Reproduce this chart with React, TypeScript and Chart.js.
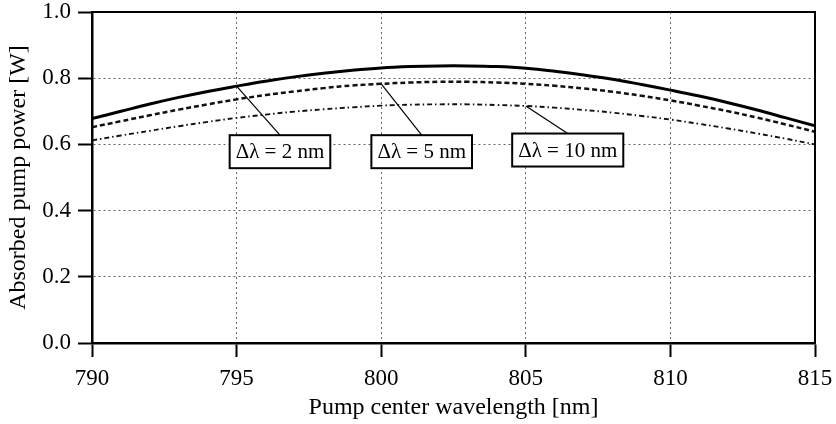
import { useEffect, useRef } from "react";
import { Chart, registerables } from "chart.js";

Chart.register(...registerables);

// Pump center wavelength [nm]
const wavelengths = [
  790, 791, 792, 793, 794, 795, 796, 797, 798, 799, 800, 801, 802,
  803, 804, 805, 806, 807, 808, 809, 810, 811, 812, 813, 814, 815,
];

// Absorbed pump power [W] for each pump linewidth
const absorbed2nm = [
  0.678, 0.700, 0.722, 0.742, 0.760, 0.776, 0.791, 0.804, 0.815, 0.824,
  0.831, 0.835, 0.837, 0.837, 0.835, 0.830, 0.821, 0.810, 0.797, 0.781,
  0.764, 0.746, 0.726, 0.704, 0.680, 0.656,
];
const absorbed5nm = [
  0.652, 0.670, 0.688, 0.705, 0.721, 0.736, 0.749, 0.760, 0.770, 0.778,
  0.783, 0.787, 0.789, 0.789, 0.787, 0.783, 0.777, 0.769, 0.759, 0.747,
  0.733, 0.717, 0.700, 0.681, 0.660, 0.638,
];
const absorbed10nm = [
  0.612, 0.627, 0.641, 0.655, 0.668, 0.680, 0.690, 0.699, 0.706, 0.712,
  0.717, 0.720, 0.721, 0.721, 0.719, 0.716, 0.711, 0.704, 0.696, 0.686,
  0.675, 0.662, 0.648, 0.633, 0.617, 0.600,
];

const seriesLabels = ["Δλ = 2 nm", "Δλ = 5 nm", "Δλ = 10 nm"];

// Callout boxes: which series, which sample the leader starts from,
// and where the box is centred (in axis units).
const callouts = [
  { series: 0, pointIndex: 5, boxX: 796.5, boxY: 0.578 },
  { series: 1, pointIndex: 10, boxX: 801.4, boxY: 0.578 },
  { series: 2, pointIndex: 15, boxX: 806.45, boxY: 0.583 },
];

const FONT = "'Liberation Serif', 'Times New Roman', serif";

const toPoints = (ys: number[]) => wavelengths.map((x, i) => ({ x, y: ys[i] }));

const frameAndCallouts = {
  id: "frameAndCallouts",
  afterDatasetsDraw(chart: any) {
    const { ctx, chartArea, scales } = chart;
    ctx.save();

    // top and right edges of the plot frame
    ctx.strokeStyle = "#000";
    ctx.lineWidth = 2;
    ctx.setLineDash([]);
    ctx.beginPath();
    ctx.moveTo(chartArea.left, chartArea.top);
    ctx.lineTo(chartArea.right, chartArea.top);
    ctx.lineTo(chartArea.right, chartArea.bottom);
    ctx.stroke();

    ctx.font = `21px ${FONT}`;
    ctx.textAlign = "center";
    ctx.textBaseline = "middle";
    for (const c of callouts) {
      const pt = chart.getDatasetMeta(c.series).data[c.pointIndex];
      const cx = scales.x.getPixelForValue(c.boxX);
      const cy = scales.y.getPixelForValue(c.boxY);
      const text = seriesLabels[c.series];
      const w = ctx.measureText(text).width + 12;
      const h = 33;

      // leader line
      ctx.strokeStyle = "#000";
      ctx.lineWidth = 1.2;
      ctx.beginPath();
      ctx.moveTo(pt.x, pt.y);
      ctx.lineTo(cx, cy - h / 2);
      ctx.stroke();

      // box
      ctx.fillStyle = "#fff";
      ctx.fillRect(cx - w / 2, cy - h / 2, w, h);
      ctx.lineWidth = 2;
      ctx.strokeRect(cx - w / 2, cy - h / 2, w, h);

      ctx.fillStyle = "#000";
      ctx.fillText(text, cx, cy + 1);
    }
    ctx.restore();
  },
};

export default function App() {
  const canvasRef = useRef<HTMLCanvasElement | null>(null);

  useEffect(() => {
    const canvas = canvasRef.current;
    if (!canvas) return;

    const gridCommon = {
      color: "#666",
      lineWidth: 1,
      tickColor: "#000",
      tickWidth: 2,
      tickLength: 14,
      tickBorderDash: [],
    };

    const chart = new Chart(canvas, {
      type: "line",
      data: {
        datasets: [
          {
            label: seriesLabels[0],
            data: toPoints(absorbed2nm),
            borderColor: "#000",
            borderWidth: 3,
            pointRadius: 0,
            tension: 0.4,
          },
          {
            label: seriesLabels[1],
            data: toPoints(absorbed5nm),
            borderColor: "#111",
            borderWidth: 2.5,
            borderDash: [5, 3],
            pointRadius: 0,
            tension: 0.4,
          },
          {
            label: seriesLabels[2],
            data: toPoints(absorbed10nm),
            borderColor: "#111",
            borderWidth: 1.9,
            borderDash: [5, 3, 1.5, 3],
            pointRadius: 0,
            tension: 0.4,
          },
        ],
      },
      options: {
        animation: false,
        responsive: false,
        devicePixelRatio: 1,
        layout: { padding: { left: 0, top: 12, right: 21, bottom: 0 } },
        plugins: {
          legend: { display: false },
          tooltip: { enabled: false },
        },
        scales: {
          x: {
            type: "linear",
            min: 790,
            max: 815,
            afterFit: (scale: any) => {
              scale.height = 81;
              scale.paddingLeft = 0;
              scale.paddingRight = 0;
            },
            ticks: {
              stepSize: 5,
              color: "#000",
              padding: 8,
              font: { family: FONT, size: 23 },
              maxRotation: 0,
            },
            grid: gridCommon,
            border: { color: "#000", width: 2.5, dash: [2, 3] },
            title: {
              display: true,
              text: "Pump center wavelength [nm]",
              color: "#000",
              font: { family: FONT, size: 24 },
              padding: { top: 0, bottom: 2 },
            },
          },
          y: {
            min: 0,
            max: 1,
            afterFit: (scale: any) => {
              scale.width = 92;
              scale.paddingTop = 0;
              scale.paddingBottom = 0;
            },
            ticks: {
              stepSize: 0.2,
              color: "#000",
              padding: 7,
              font: { family: FONT, size: 23 },
              callback: (v: any) => Number(v).toFixed(1),
            },
            grid: gridCommon,
            border: { color: "#000", width: 2.5, dash: [2, 3] },
            title: {
              display: true,
              text: "Absorbed pump power [W]",
              color: "#000",
              font: { family: FONT, size: 24 },
              padding: { top: 4, bottom: 0 },
            },
          },
        },
      },
      plugins: [frameAndCallouts],
    });

    return () => chart.destroy();
  }, []);

  return (
    <div style={{ position: "fixed", left: 0, top: 0, width: 836, height: 424, background: "#fff" }}>
      <canvas ref={canvasRef} width={836} height={424} />
    </div>
  );
}
